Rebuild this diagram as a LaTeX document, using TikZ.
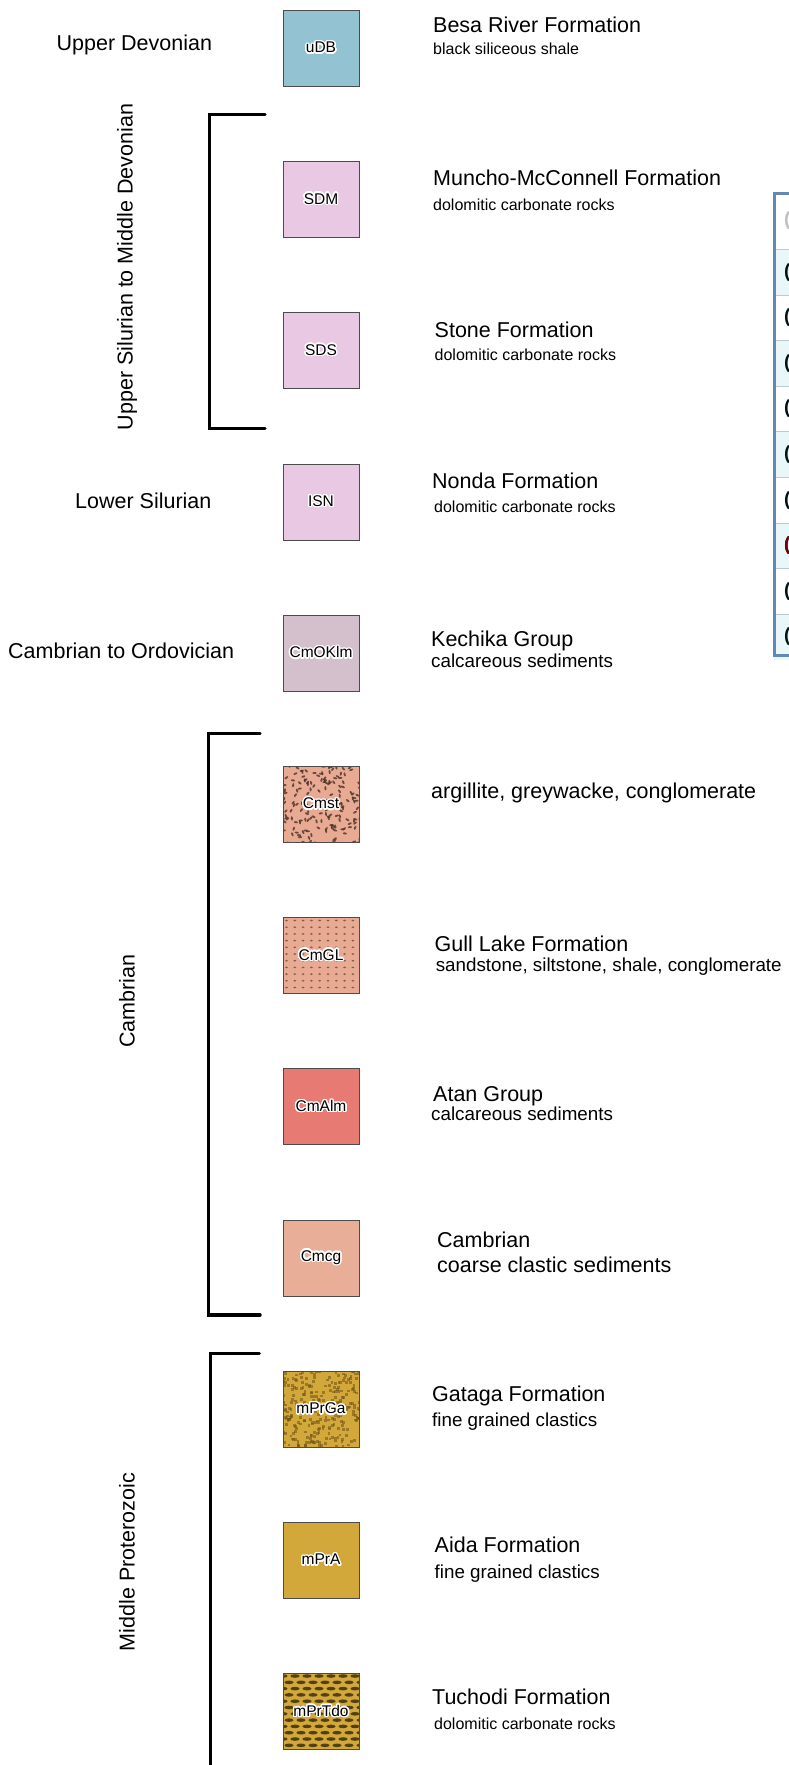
\documentclass[tikz,border=0pt]{standalone}
\usepackage{fontspec}
\setmainfont{Liberation Sans}
\usepackage{xcolor}
\usepackage{contour}
\contourlength{1.4pt}
\contournumber{20}
\definecolor{udb}{HTML}{93C3D3}
\definecolor{silpink}{HTML}{E8C8E2}
\definecolor{kechika}{HTML}{D4C0CC}
\definecolor{salmon}{HTML}{E8AA92}
\definecolor{atan}{HTML}{E77A72}
\definecolor{cmcg}{HTML}{E8AE98}
\definecolor{ochre}{HTML}{D3A83A}
\definecolor{markdark}{HTML}{4A3028}
\definecolor{ochredark}{HTML}{6E5214}
\definecolor{tableblue}{HTML}{6189B2}
\definecolor{tablerule}{HTML}{BCCAD4}
\definecolor{rowcyan}{HTML}{EAF7F8}
\tikzset{
    unit-box/.style = {draw=black!70, line width=0.8pt, rectangle, minimum size=76pt, inner sep=0pt, font=\fontsize{15.5}{17}\selectfont},
    age-label/.style = {anchor=base west, inner sep=0pt, font=\fontsize{21.5}{24}\selectfont},
    age-side/.style = {rotate=90, inner sep=0pt, font=\fontsize{21.5}{24}\selectfont},
    unit-name/.style = {anchor=base west, inner sep=0pt, font=\fontsize{21.5}{24}\selectfont},
    unit-note/.style = {anchor=base west, inner sep=0pt, font=\fontsize{16}{18}\selectfont},
    unit-note-big/.style = {anchor=base west, inner sep=0pt, font=\fontsize{18.8}{21}\selectfont},
    bracket/.style = {line width=3.4pt, line cap=round},
    paren/.style = {anchor=west, inner sep=0pt, font=\fontsize{19}{21}\selectfont\bfseries},
    dash-marks/.pic = {
        \clip (-38,-38) rectangle (38,38);
        \fill[salmon] (-38,-38) rectangle (38,38);
        \pgfmathsetseed{11}
        \foreach \k in {1,...,190}{
            \pgfmathsetmacro\px{rnd*80-40}
            \pgfmathsetmacro\py{rnd*80-40}
            \pgfmathsetmacro\pa{rnd*180}
            \fill[markdark, opacity=0.8, shift={(\px,\py)}, rotate=\pa] (0,0) ellipse (2.1 and 1.0);
        }
    },
    dot-grid/.pic = {
        \clip (-38,-38) rectangle (38,38);
        \fill[salmon] (-38,-38) rectangle (38,38);
        \foreach \i in {0,...,9}
            \foreach \j in {0,...,11}
                \fill[markdark, opacity=0.65] (-34.5+\i*8.3, -35+\j*6.7) ellipse (1.5 and 0.9);
    },
    speckle/.pic = {
        \clip (-38,-38) rectangle (38,38);
        \fill[ochre] (-38,-38) rectangle (38,38);
        \pgfmathsetseed{5}
        \foreach \k in {1,...,280}{
            \pgfmathsetmacro\px{rnd*80-40}
            \pgfmathsetmacro\py{rnd*80-40}
            \fill[ochredark, opacity=0.55] (\px-1.4,\py-1.4) rectangle (\px+1.4,\py+1.4);
        }
    },
    brick-ovals/.pic = {
        \clip (-38,-38) rectangle (38,38);
        \fill[ochre] (-38,-38) rectangle (38,38);
        \foreach \j in {0,...,12}{
            \pgfmathsetmacro\off{mod(\j,2)*6}
            \foreach \i in {-1,...,7}
                \fill[ochredark!55!black, opacity=0.85] (-38+\off+\i*12, -35.5+\j*6.3) ellipse (4.6 and 1.8);
        }
    },
}
\newcommand{\unittag}[1]{\contour{white}{#1}}

\begin{document}
\begin{tikzpicture}[x=1pt, y=-1pt]
\useasboundingbox (0,0) rectangle (788,1765);

\pic (Cmst-fill) at (321,804.3) {dash-marks};
\pic (CmGL-fill) at (321,955.5) {dot-grid};
\pic (mPrGa-fill) at (321,1409.1) {speckle};
\pic (mPrTdo-fill) at (321,1711.5) {brick-ovals};

\node[unit-box, fill=udb] (uDB) at (321,48.3) {\unittag{uDB}};
\node[unit-box, fill=silpink] (SDM) at (321,199.5) {\unittag{SDM}};
\node[unit-box, fill=silpink] (SDS) at (321,350.7) {\unittag{SDS}};
\node[unit-box, fill=silpink] (ISN) at (321,501.9) {\unittag{ISN}};
\node[unit-box, fill=kechika] (CmOKlm) at (321,653.1) {\unittag{CmOKlm}};
\node[unit-box] (Cmst) at (321,804.3) {\unittag{Cmst}};
\node[unit-box] (CmGL) at (321,955.5) {\unittag{CmGL}};
\node[unit-box, fill=atan] (CmAlm) at (321,1106.7) {\unittag{CmAlm}};
\node[unit-box, fill=cmcg] (Cmcg) at (321,1257.9) {\unittag{Cmcg}};
\node[unit-box] (mPrGa) at (321,1409.1) {\unittag{mPrGa}};
\node[unit-box, fill=ochre] (mPrA) at (321,1560.3) {\unittag{mPrA}};
\node[unit-box] (mPrTdo) at (321,1711.5) {\unittag{mPrTdo}};

\node[age-label] (upper-dev) at (56.5,50) {Upper Devonian};
\node[age-label] (lower-sil) at (75,508) {Lower Silurian};
\node[age-label] (camb-ord) at (8,658) {Cambrian to Ordovician};
\node[age-side] (sil-dev) at (127,267) {Upper Silurian to Middle Devonian};
\node[age-side] (camb) at (127,1001) {Cambrian};
\node[age-side] (mid-prot) at (127,1562) {Middle Proterozoic};

\draw[bracket] (265,114.3) -| (209.3,428.3) -- (265,428.3);
\draw[bracket] (260,733.3) -| (208.5,1315) -- (260,1315);
\draw[bracket] (259.3,1353.3) -| (210.5,1800);

\node[unit-name] (besa) at (433,32.6) {Besa River Formation};
\node[unit-note] (besa-note) at (433,54) {black siliceous shale};
\node[unit-name] (muncho) at (433,185.7) {Muncho-McConnell Formation};
\node[unit-note] (muncho-note) at (433,210.5) {dolomitic carbonate rocks};
\node[unit-name] (stone) at (434.5,337.7) {Stone Formation};
\node[unit-note] (stone-note) at (434.5,360) {dolomitic carbonate rocks};
\node[unit-name] (nonda) at (432,488.6) {Nonda Formation};
\node[unit-note] (nonda-note) at (434,512) {dolomitic carbonate rocks};
\node[unit-name] (kechika) at (431,646) {Kechika Group};
\node[unit-note-big] (kechika-note) at (431,667.5) {calcareous sediments};
\node[unit-name] (cmst-name) at (431,798) {argillite, greywacke, conglomerate};
\node[unit-name] (gull) at (434.5,951) {Gull Lake Formation};
\node[unit-note-big] (gull-note) at (435.6,971.5) {sandstone, siltstone, shale, conglomerate};
\node[unit-name] (atan) at (433,1101) {Atan Group};
\node[unit-note-big] (atan-note) at (431,1120) {calcareous sediments};
\node[unit-name] (cmcg-name) at (437,1247) {Cambrian};
\node[unit-name] (cmcg-note) at (437,1272) {coarse clastic sediments};
\node[unit-name] (gataga) at (432,1401.5) {Gataga Formation};
\node[unit-note-big] (gataga-note) at (432,1426) {fine grained clastics};
\node[unit-name] (aida) at (434.5,1552) {Aida Formation};
\node[unit-note-big] (aida-note) at (434.5,1578) {fine grained clastics};
\node[unit-name] (tuchodi) at (432,1704) {Tuchodi Formation};
\node[unit-note] (tuchodi-note) at (434,1729) {dolomitic carbonate rocks};

\foreach \r in {1,3,5,7,9}
    \fill[rowcyan] (774,203.8+45.6*\r) rectangle (800,249.4+45.6*\r);
\foreach \r in {0,...,8}
    \draw[tablerule, line width=0.8pt] (774,249.4+45.6*\r) -- (800,249.4+45.6*\r);
\node[paren, text=black!25] (head) at (784,221) {(};
\foreach \r in {1,...,9}
    \node[paren, text=black!85!teal] (row\r) at (784,226.6+45.6*\r) {(};
\node[paren, text=red!45!black] (row7) at (784,226.6+45.6*7) {(};
\draw[tableblue, line width=3pt] (800,193.5) -| (774,655) -- (800,655);
\end{tikzpicture}
\end{document}
